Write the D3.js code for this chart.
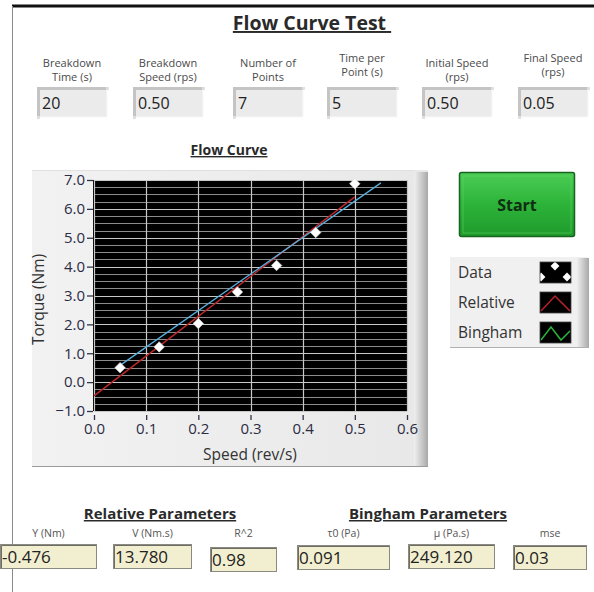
<!DOCTYPE html>
<html><head><meta charset="utf-8">
<script src="https://cdn.jsdelivr.net/npm/d3@7/dist/d3.min.js"></script>
<style>
html,body{margin:0;padding:0;background:#fff;}
svg{display:block;font-family:"Open Sans",sans-serif;}
</style></head><body>
<svg id="panel" width="594" height="592"></svg>
<script>
// Measured flow-curve points
const speed  = [0.05, 0.125, 0.2, 0.275, 0.35, 0.425, 0.5];
const torque = [0.50, 1.22, 2.03, 3.12, 4.04, 5.18, 6.87];

// Relative fit: torque = Y + V * speed
const relativeY = -0.476;
const relativeV = 13.780;
const relativeR2 = 0.98;
const relativeSpan = [0, 0.5];

// Bingham curve (two end points) and its parameters
const binghamSpeed  = [0.05, 0.55];
const binghamTorque = [0.58, 6.90];
const binghamTau0 = 0.091;
const binghamMu = 249.120;
const binghamMse = 0.03;

// Axis ticks
const xTicks = [0, 0.1, 0.2, 0.3, 0.4, 0.5, 0.6];
const yTicks = [-1, 0, 1, 2, 3, 4, 5, 6, 7];
const yMinorStep = 0.25;

// Test setup controls
const inputLabels = [["Breakdown", "Time (s)"], ["Breakdown", "Speed (rps)"], ["Number of", "Points"],
                     ["Time per", "Point (s)"], ["Initial Speed", "(rps)"], ["Final Speed", "(rps)"]];
const inputValues = ["20", "0.50", "7", "5", "0.50", "0.05"];

const legendNames = ["Data", "Relative", "Bingham"];

const relLabels = ["Y (Nm)", "V (Nm.s)", "R^2"];
const relValues = [relativeY.toFixed(3), relativeV.toFixed(3), relativeR2.toFixed(2)];
const binLabels = ["τ0 (Pa)", "μ (Pa.s)", "mse"];
const binValues = [binghamTau0.toFixed(3), binghamMu.toFixed(3), binghamMse.toFixed(2)];

// ---------- layout ----------
const svg = d3.select("#panel");
const defs = svg.append("defs");

// panel border
svg.append("rect").attr("x", 12).attr("y", 4.5).attr("width", 582).attr("height", 3).attr("fill", "#111");
svg.append("line").attr("x1", 12.5).attr("x2", 12.5).attr("y1", 6).attr("y2", 592).attr("stroke", "#8a8a8a").attr("stroke-width", 1);

// underlined bold headings
function underlinedTitle(x, y, text, size) {
  return svg.append("text").attr("x", x).attr("y", y).attr("text-anchor", "middle")
    .attr("font-weight", 700).attr("font-size", size).attr("fill", "#2a2a2a")
    .attr("text-decoration", "underline").text(text);
}
underlinedTitle(312, 30, "Flow Curve Test\u00a0", 19.5);

// sunken input boxes
function sunkenBox(x, y, w, h, fill, dark) {
  const g = svg.append("g");
  g.append("rect").attr("x", x).attr("y", y).attr("width", w).attr("height", h).attr("fill", fill);
  g.append("path").attr("d", `M${x},${y + h} V${y} H${x + w}`).attr("fill", "none")
    .attr("stroke", dark).attr("stroke-width", 3).attr("transform", "translate(1.5,1.5)");
  g.append("path").attr("d", `M${x},${y + h} H${x + w} V${y}`).attr("fill", "none")
    .attr("stroke", "#f8f8f8").attr("stroke-width", 1);
  return g;
}

const inputBoxX = [37, 133, 233, 327, 422, 518];
const inputLabelY = [[63, 77], [63, 77], [63, 77], [58, 72], [63, 77], [58, 72]];
inputValues.forEach((v, i) => {
  const bx = inputBoxX[i], bw = 70;
  sunkenBox(bx, 87, bw, 30, "#ebebeb", "#c4c4c4");
  inputLabels[i].forEach((s, j) => {
    svg.append("text").attr("x", bx + bw / 2).attr("y", inputLabelY[i][j] + 4).attr("text-anchor", "middle")
      .attr("font-size", 11).attr("fill", "#4a4a4a").text(s);
  });
  svg.append("text").attr("x", bx + 5).attr("y", 109).attr("font-size", 16).attr("fill", "#222").text(v);
});

// ---------- graph ----------
underlinedTitle(229, 155, "Flow Curve", 14);

// graph frame with bevelled right edge
const frameGrad = defs.append("linearGradient").attr("id", "frameGrad").attr("x1", 0).attr("x2", 1);
frameGrad.append("stop").attr("offset", "0").attr("stop-color", "#f2f2f2");
frameGrad.append("stop").attr("offset", "1").attr("stop-color", "#e8e8e8");
svg.append("rect").attr("x", 32).attr("y", 170).attr("width", 396).attr("height", 297).attr("fill", "url(#frameGrad)");
const bevel = defs.append("linearGradient").attr("id", "bevel").attr("x1", 0).attr("x2", 1);
bevel.append("stop").attr("offset", "0").attr("stop-color", "#f0f0f0");
bevel.append("stop").attr("offset", "1").attr("stop-color", "#a9a9a9");
svg.append("rect").attr("x", 414).attr("y", 172).attr("width", 14).attr("height", 295).attr("fill", "url(#bevel)");
svg.append("line").attr("x1", 32).attr("x2", 428).attr("y1", 466.5).attr("y2", 466.5).attr("stroke", "#9a9a9a");
svg.append("line").attr("x1", 32).attr("x2", 414).attr("y1", 170.5).attr("y2", 170.5).attr("stroke", "#e0e0e0");

const x = d3.scaleLinear().domain([0, 0.6]).range([94, 407]);
const y = d3.scaleLinear().domain([-1, 7]).range([411, 180]);

svg.append("rect").attr("x", x(0) - 1).attr("y", y(7)).attr("width", x(0.6) - x(0) + 1)
  .attr("height", y(-1) - y(7)).attr("fill", "#000");

// grid
const minor = d3.range(-1, 7 + 1e-9, yMinorStep).filter(v => Math.abs(v - Math.round(v)) > 1e-6);
svg.append("g").selectAll("line").data(minor).join("line")
  .attr("x1", x(0)).attr("x2", x(0.6)).attr("y1", d => Math.round(y(d)) + 0.5).attr("y2", d => Math.round(y(d)) + 0.5)
  .attr("stroke", "#8c8c8c").attr("stroke-width", 1);
svg.append("g").selectAll("line").data(yTicks).join("line")
  .attr("x1", x(0)).attr("x2", x(0.6)).attr("y1", d => Math.round(y(d)) + 0.5).attr("y2", d => Math.round(y(d)) + 0.5)
  .attr("stroke", "#c8c8c8").attr("stroke-width", 1.2);
svg.append("g").selectAll("line").data(xTicks).join("line")
  .attr("y1", y(7)).attr("y2", y(-1)).attr("x1", d => Math.round(x(d)) + 0.5).attr("x2", d => Math.round(x(d)) + 0.5)
  .attr("stroke", "#c8c8c8").attr("stroke-width", 1.2);

// axes
const yAxis = svg.append("g").attr("transform", `translate(${x(0) - 1},0)`)
  .call(d3.axisLeft(y).tickValues(yTicks).tickFormat(d3.format(".1f")).tickSize(6).tickPadding(2));
const xAxis = svg.append("g").attr("transform", `translate(0,${y(-1) + 4})`)
  .call(d3.axisBottom(x).tickValues(xTicks).tickFormat(d3.format(".1f")).tickSize(5).tickPadding(3));
[yAxis, xAxis].forEach(a => {
  a.select(".domain").remove();
  a.selectAll(".tick line").attr("stroke", "#333348").attr("stroke-width", 1.3);
  a.selectAll(".tick text").attr("font-family", "Open Sans, sans-serif").attr("font-size", 15).attr("fill", "#2c2c44");
});

svg.append("text").attr("transform", `translate(44,${(y(7) + y(-1)) / 2 + 4}) rotate(-90)`)
  .attr("text-anchor", "middle").attr("font-size", 15.5).attr("fill", "#333").text("Torque (Nm)");
svg.append("text").attr("x", 250).attr("y", 460).attr("text-anchor", "middle")
  .attr("font-size", 15.5).attr("fill", "#333").text("Speed (rev/s)");

// fitted lines
const line = d3.line().x(d => x(d[0])).y(d => y(d[1]));
const relPts = relativeSpan.map(s => [s, relativeY + relativeV * s]);
svg.append("path").datum(relPts).attr("d", line).attr("fill", "none")
  .attr("stroke", "#c0282a").attr("stroke-width", 1.4);
const binPts = binghamSpeed.map((s, i) => [s, binghamTorque[i]]);
svg.append("path").datum(binPts).attr("d", line).attr("fill", "none")
  .attr("stroke", "#58b0e0").attr("stroke-width", 1.3);

// data points
const diamond = d3.symbol().type(d3.symbolDiamond2).size(70);
svg.append("g").selectAll("path").data(speed.map((s, i) => [s, torque[i]])).join("path")
  .attr("d", diamond).attr("transform", d => `translate(${x(d[0])},${y(d[1])})`)
  .attr("fill", "#fff").attr("stroke", "#ddd").attr("stroke-width", 0.6);

// ---------- start button ----------
const btnGrad = defs.append("linearGradient").attr("id", "btnGrad").attr("x1", 0).attr("x2", 0).attr("y1", 0).attr("y2", 1);
btnGrad.append("stop").attr("offset", "0").attr("stop-color", "#4ccd55");
btnGrad.append("stop").attr("offset", "0.5").attr("stop-color", "#2db339");
btnGrad.append("stop").attr("offset", "1").attr("stop-color", "#1f9a2c");
svg.append("rect").attr("x", 459.5).attr("y", 172.5).attr("width", 115).attr("height", 64).attr("rx", 2)
  .attr("fill", "url(#btnGrad)").attr("stroke", "#17631f").attr("stroke-width", 1.5);
svg.append("rect").attr("x", 463).attr("y", 176).attr("width", 108).attr("height", 57)
  .attr("fill", "none").attr("stroke", "#5fd86a").attr("stroke-opacity", 0.5);
svg.append("text").attr("x", 517).attr("y", 211).attr("text-anchor", "middle")
  .attr("font-weight", 700).attr("font-size", 16).attr("fill", "#0f2e12").text("Start");

// ---------- legend ----------
svg.append("rect").attr("x", 450).attr("y", 257).attr("width", 138).attr("height", 91).attr("fill", "#f0f0f0");
const lgBevel = defs.append("linearGradient").attr("id", "lgBevel").attr("x1", 0).attr("x2", 1);
lgBevel.append("stop").attr("offset", "0").attr("stop-color", "#eeeeee");
lgBevel.append("stop").attr("offset", "1").attr("stop-color", "#a8a8a8");
svg.append("rect").attr("x", 577).attr("y", 258).attr("width", 12).attr("height", 90).attr("fill", "url(#lgBevel)");
svg.append("line").attr("x1", 450).attr("x2", 589).attr("y1", 347.5).attr("y2", 347.5).attr("stroke", "#b0b0b0");

const legendRowY = [272, 302, 332];
legendNames.forEach((name, i) => {
  const cy = legendRowY[i];
  svg.append("text").attr("x", 458).attr("y", cy + 5.5).attr("font-size", 15.5).attr("fill", "#333").text(name);
  const bx = 540, by = cy - 10, bw = 31, bh = 21;
  defs.append("clipPath").attr("id", "swatch" + i)
    .append("rect").attr("x", bx).attr("y", by).attr("width", bw).attr("height", bh);
  svg.append("rect").attr("x", bx).attr("y", by).attr("width", bw).attr("height", bh).attr("fill", "#000");
  const g = svg.append("g").attr("clip-path", `url(#swatch${i})`);
  if (i === 0) {
    [[bx + 15, by + 4], [bx + 1, by + 15], [bx + 27, by + 15]].forEach(p => {
      g.append("path").attr("d", d3.symbol().type(d3.symbolDiamond2).size(50))
        .attr("transform", `translate(${p[0]},${p[1]})`).attr("fill", "#fff");
    });
  } else if (i === 1) {
    g.append("path").attr("d", `M${bx + 1},${by + bh - 2} L${bx + 15},${by + 4} L${bx + bw - 1},${by + bh - 2}`)
      .attr("fill", "none").attr("stroke", "#b8222a").attr("stroke-width", 1.5);
  } else {
    g.append("path").attr("d", `M${bx + 1},${by + bh - 3} L${bx + 11},${by + 5} L${bx + 21},${by + bh - 3} L${bx + bw - 1},${by + 9}`)
      .attr("fill", "none").attr("stroke", "#2cb33a").attr("stroke-width", 1.5);
  }
  svg.append("rect").attr("x", bx).attr("y", by).attr("width", bw).attr("height", bh)
    .attr("fill", "none").attr("stroke", "#444").attr("stroke-width", 0.8);
});

// ---------- parameter readouts ----------
underlinedTitle(160, 519, "Relative Parameters", 15);
underlinedTitle(428, 519, "Bingham Parameters", 15);

const relBoxes = [[0, 97, 544], [113, 79, 544], [210, 67, 547]];
const binBoxes = [[297, 93, 545], [408, 87, 544], [513, 74, 545]];
function readouts(labels, values, boxes) {
  labels.forEach((lab, i) => {
    const [bx, bw, by] = boxes[i];
    svg.append("text").attr("x", bx + bw / 2).attr("y", 537).attr("text-anchor", "middle")
      .attr("font-size", 10.5).attr("fill", "#555").text(lab);
    svg.append("rect").attr("x", bx + 0.5).attr("y", by + 0.5).attr("width", bw - 1).attr("height", 24)
      .attr("fill", "#f2efd0").attr("stroke", "#8a8a80").attr("stroke-width", 1);
    svg.append("path").attr("d", `M${bx + 1.5},${by + 24} V${by + 1.5} H${bx + bw - 1}`)
      .attr("fill", "none").attr("stroke", "#6d6d66").attr("stroke-width", 1);
    svg.append("text").attr("x", bx + 2).attr("y", by + 19).attr("font-size", 17).attr("fill", "#222").text(values[i]);
  });
}
readouts(relLabels, relValues, relBoxes);
readouts(binLabels, binValues, binBoxes);
</script>
</body></html>
